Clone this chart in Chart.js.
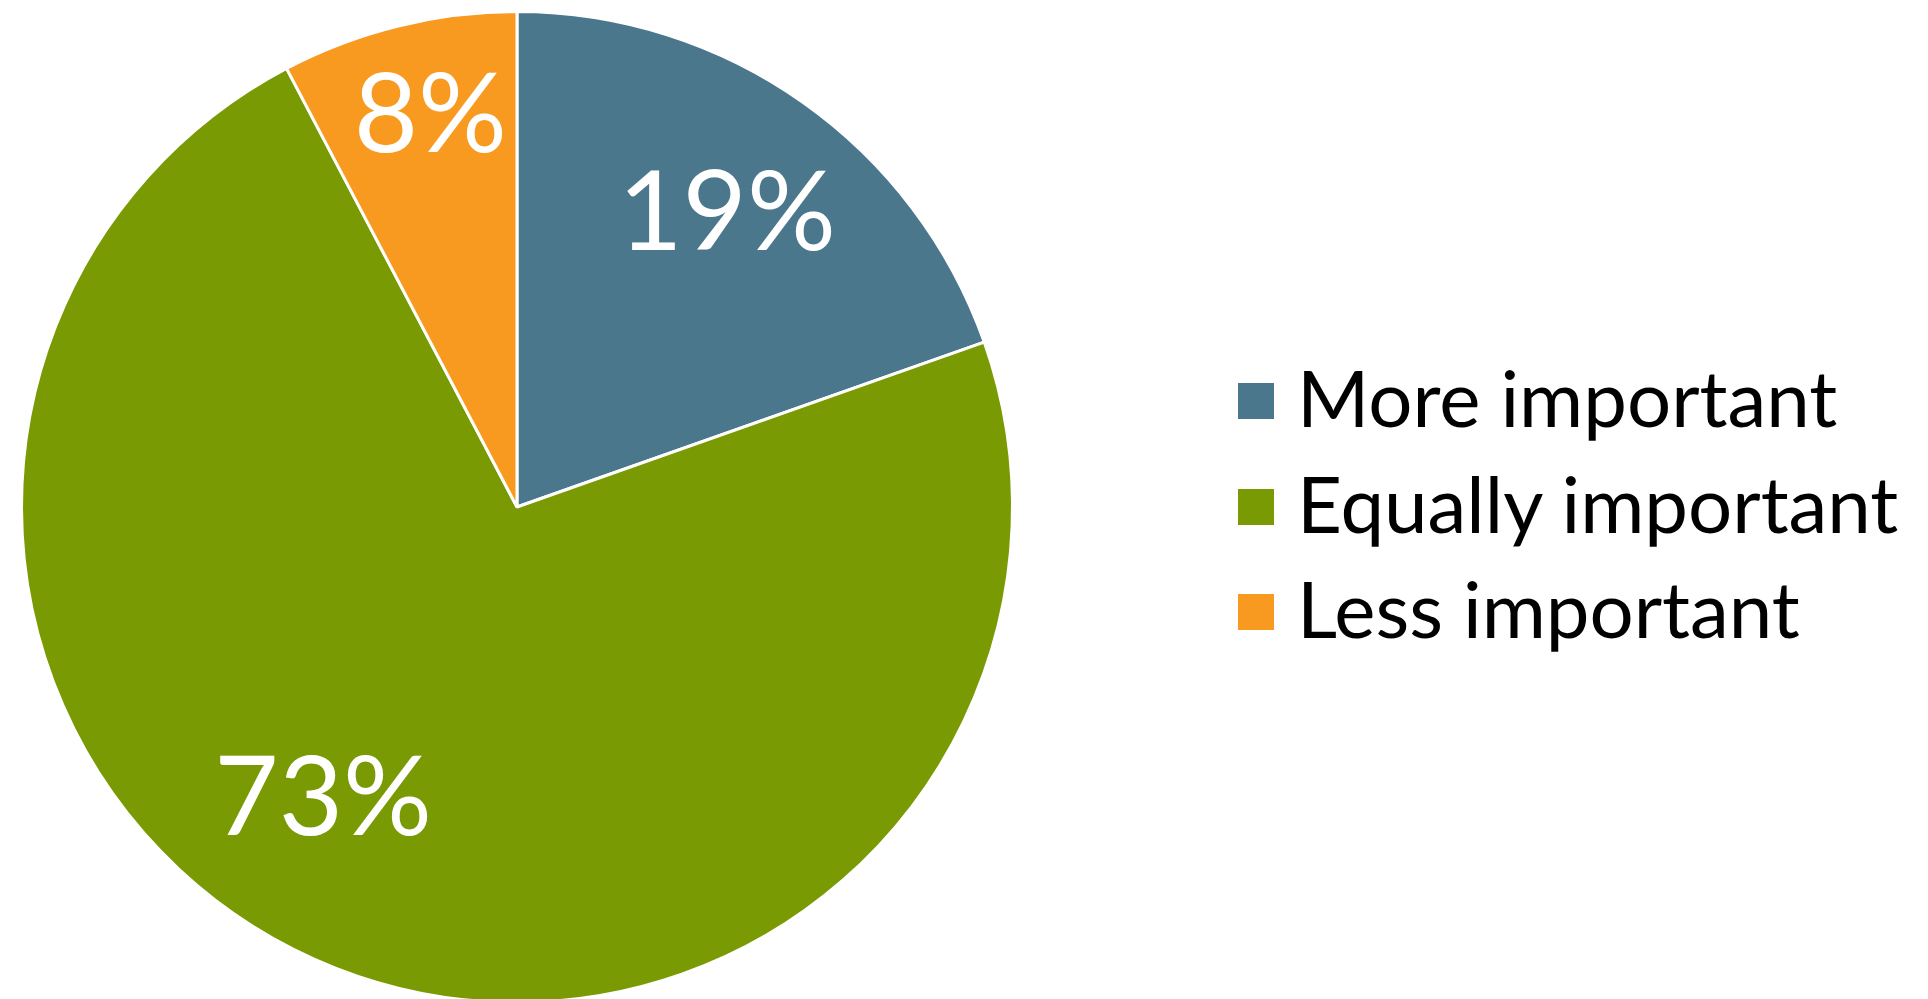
<!DOCTYPE html>
<html>
<head>
<meta charset="utf-8">
<script src="https://cdn.jsdelivr.net/npm/chart.js@4/dist/chart.umd.min.js"></script>
<style>
  html, body { margin: 0; padding: 0; background: #ffffff; overflow: hidden; width: 1928px; height: 999px; }
  #wrap { position: absolute; left: 0; top: 0; width: 1034px; height: 1014px; }
  #legend { position: absolute; left: 0; top: 0; }
  .lg-box { position: absolute; width: 36px; height: 36px; }
  .lg-text { position: absolute; font-family: Lato, sans-serif; font-size: 78px; line-height: 78px; color: #000; white-space: nowrap; }
</style>
</head>
<body>
<div id="wrap"><canvas id="c"></canvas></div>
<div id="legend"></div>
<script>
const categories = ["More important", "Equally important", "Less important"];
const shares = [19.6, 72.7, 7.7];
const shareLabels = ["19%", "73%", "8%"];
const sliceColors = ["#4A778C", "#7A9A03", "#F89A20"];

// label placement (fraction of radius, angle offset in degrees from slice middle)
const labelPlacement = [
  { r: 0.734, da: 0 },
  { r: 0.701, da: 12.5 },
  { r: 0.817, da: 1.5 }
];

const sliceLabelPlugin = {
  id: 'sliceLabels',
  afterDatasetsDraw(chart) {
    const ctx = chart.ctx;
    const meta = chart.getDatasetMeta(0);
    ctx.save();
    ctx.fillStyle = '#ffffff';
    ctx.font = '400 111px Lato, sans-serif';
    ctx.textAlign = 'center';
    ctx.textBaseline = 'alphabetic';
    meta.data.forEach((arc, i) => {
      const p = arc.getProps(['x', 'y', 'startAngle', 'endAngle', 'outerRadius'], true);
      const mid = (p.startAngle + p.endAngle) / 2 + labelPlacement[i].da * Math.PI / 180;
      const rr = p.outerRadius * labelPlacement[i].r;
      const x = p.x + Math.cos(mid) * rr;
      const y = p.y + Math.sin(mid) * rr;
      ctx.fillText(shareLabels[i], x, y + 40);
    });
    ctx.restore();
  }
};

new Chart(document.getElementById('c'), {
  type: 'pie',
  data: {
    labels: categories,
    datasets: [{
      data: shares,
      backgroundColor: sliceColors,
      borderColor: '#ffffff',
      borderWidth: 3
    }]
  },
  options: {
    responsive: true,
    maintainAspectRatio: false,
    animation: false,
    layout: { padding: 10 },
    plugins: {
      legend: { display: false },
      tooltip: { enabled: false }
    }
  },
  plugins: [sliceLabelPlugin]
});

// legend
const legend = document.getElementById('legend');
categories.forEach((name, i) => {
  const box = document.createElement('div');
  box.className = 'lg-box';
  box.style.left = '1238px';
  box.style.top = (383 + i * 105.5) + 'px';
  box.style.background = sliceColors[i];
  legend.appendChild(box);
  const t = document.createElement('div');
  t.className = 'lg-text';
  t.style.left = '1297px';
  t.style.top = (358 + i * 105.5) + 'px';
  t.textContent = name;
  legend.appendChild(t);
});
</script>
</body>
</html>
